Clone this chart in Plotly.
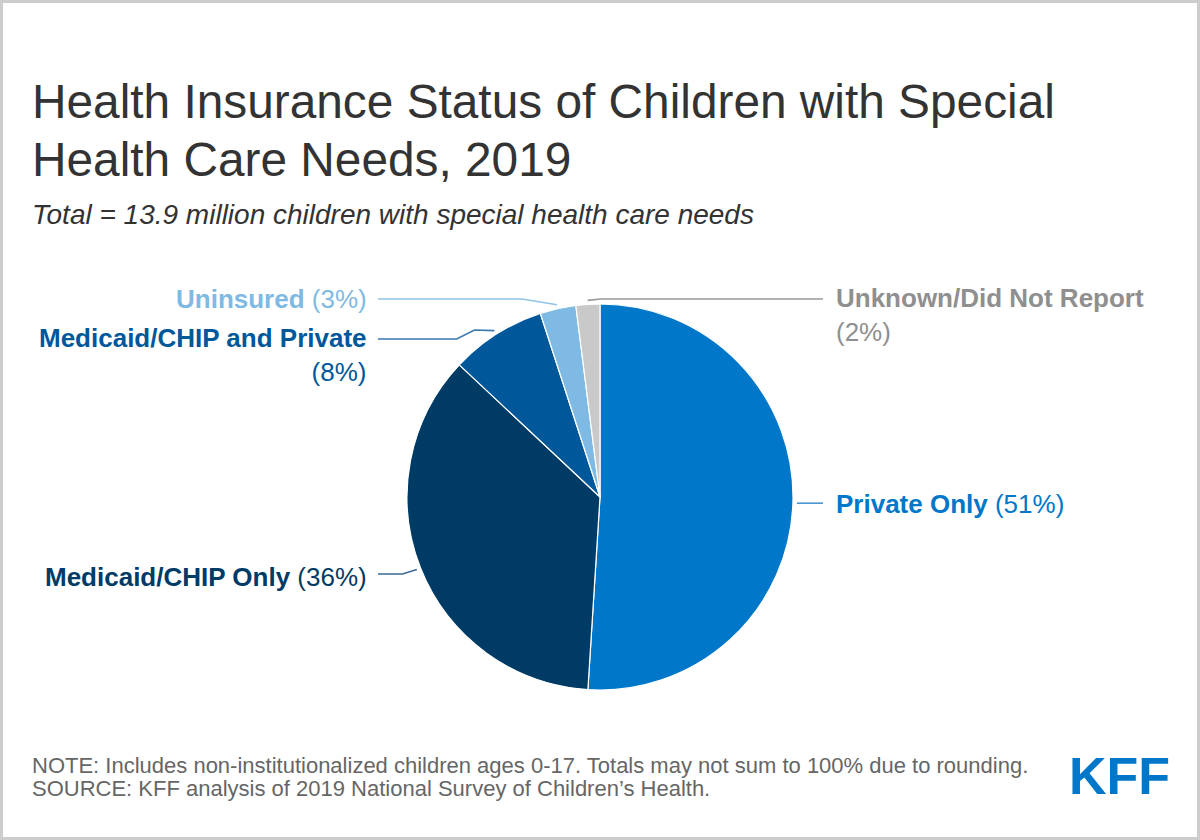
import math
import plotly.graph_objects as go

# ---------------- data ----------------
categories = ["Private Only", "Medicaid/CHIP Only", "Medicaid/CHIP and Private",
              "Uninsured", "Unknown/Did Not Report"]
values = [51, 36, 8, 3, 2]

title_lines = ["Health Insurance Status of Children with Special",
               "Health Care Needs, 2019"]
subtitle = "Total = 13.9 million children with special health care needs"
note = "NOTE: Includes non-institutionalized children ages 0-17. Totals may not sum to 100% due to rounding."
source = "SOURCE: KFF analysis of 2019 National Survey of Children\u2019s Health."
logo = "KFF"

# ---------------- styles / layout ----------------
W, H = 1200, 840
slice_colors = ["#0077c8", "#003b66", "#00589b", "#7fbae4", "#c9c9c9"]
text_colors = ["#0077c8", "#003b66", "#00589b", "#7fbae4", "#8f8f8f"]
line_colors = ["#4a97d4", "#3a6a93", "#3a78ad", "#8fc3e8", "#9a9a9a"]
FONT = "Liberation Sans, Arial, Helvetica, sans-serif"

CX, CY, R = 600, 497, 193      # pie centre / radius in pixels
R_ANCHOR = 197                 # where leader lines touch the pie

# label placement per slice: side, label x, label y (centre), break line?, elbow points
label_layout = [
    dict(side="right", x=834, y=504, wrap=False, elbows=[], end=823),
    dict(side="left", x=369, y=577, wrap=False, elbows=[(402.5, 574)], end=378, ly=574),
    dict(side="left", x=369, y=354.5, wrap=True, elbows=[(474.5, 330), (456.7, 339)], end=378, ly=339),
    dict(side="left", x=369, y=299, wrap=False, elbows=[(522, 299)], end=378, ly=299),
    dict(side="right", x=834, y=314.5, wrap=True, elbows=[(601, 299)], end=823, ly=299),
]


def px(x):
    return x / W


def py(y):
    return 1 - y / H


fig = go.Figure()
fig.add_trace(go.Pie(
    labels=categories,
    values=values,
    sort=False,
    direction="clockwise",
    rotation=0,
    textinfo="none",
    hoverinfo="label+percent",
    marker=dict(colors=slice_colors, line=dict(color="white", width=1.2)),
    domain=dict(x=[px(CX - R), px(CX + R)], y=[py(CY + R), py(CY - R)]),
    showlegend=False,
))

annotations = []
shapes = []

total = sum(values)
cum = 0
for cat, v, tc, lc, lay in zip(categories, values, text_colors, line_colors, label_layout):
    frac = (cum + v / 2) / total
    cum += v
    th = 2 * math.pi * frac
    ax = CX + R_ANCHOR * math.sin(th)
    ay = CY - R_ANCHOR * math.cos(th)
    pts = [(ax, ay)] + lay["elbows"]
    ly = lay.get("ly", ay)
    pts.append((lay["end"], ly))
    path = "M {} {}".format(px(pts[0][0]), py(pts[0][1]))
    for (x, y) in pts[1:]:
        path += " L {} {}".format(px(x), py(y))
    shapes.append(dict(type="path", path=path, xref="paper", yref="paper",
                       line=dict(color=lc, width=1.6)))
    sep = "<br>" if lay["wrap"] else " "
    txt = "<b>{}</b>{}({}%)".format(cat, sep, v)
    annotations.append(dict(
        text=txt, x=px(lay["x"]), y=py(lay["y"]), xref="paper", yref="paper",
        xanchor="right" if lay["side"] == "left" else "left", yanchor="middle",
        align="right" if lay["side"] == "left" else "left",
        showarrow=False, font=dict(family=FONT, size=26, color=tc),
    ))

# titles
annotations.append(dict(text=title_lines[0], x=px(30), y=py(101), xref="paper", yref="paper",
                        xanchor="left", yanchor="middle", showarrow=False,
                        font=dict(family=FONT, size=47.8, color="#333333")))
annotations.append(dict(text=title_lines[1], x=px(30), y=py(159), xref="paper", yref="paper",
                        xanchor="left", yanchor="middle", showarrow=False,
                        font=dict(family=FONT, size=47.8, color="#333333")))
annotations.append(dict(text="<i>" + subtitle + "</i>", x=px(30), y=py(215), xref="paper", yref="paper",
                        xanchor="left", yanchor="middle", showarrow=False,
                        font=dict(family=FONT, size=28, color="#333333")))
# footer
annotations.append(dict(text=note, x=px(30), y=py(765), xref="paper", yref="paper",
                        xanchor="left", yanchor="middle", showarrow=False,
                        font=dict(family=FONT, size=22, color="#666666")))
annotations.append(dict(text=source, x=px(30), y=py(788.5), xref="paper", yref="paper",
                        xanchor="left", yanchor="middle", showarrow=False,
                        font=dict(family=FONT, size=22, color="#666666")))
annotations.append(dict(text="<b>" + logo + "</b>", x=px(1119), y=py(776), xref="paper", yref="paper",
                        xanchor="center", yanchor="middle", showarrow=False,
                        font=dict(family="Liberation Sans Narrow, Arial Narrow, " + FONT,
                                  size=52, color="#0077c8")))

# border
shapes.append(dict(type="rect", xref="paper", yref="paper",
                   x0=px(1.5), x1=px(W - 1.5), y0=py(H - 1.5), y1=py(1.5),
                   line=dict(color="#cccccc", width=3)))

fig.update_layout(
    width=W, height=H,
    margin=dict(l=0, r=0, t=0, b=0),
    paper_bgcolor="white", plot_bgcolor="white",
    annotations=annotations, shapes=shapes,
)

fig.write_html("out.html", config={"displayModeBar": False},
               post_script="document.body.style.margin='0';document.body.style.overflow='hidden';")
